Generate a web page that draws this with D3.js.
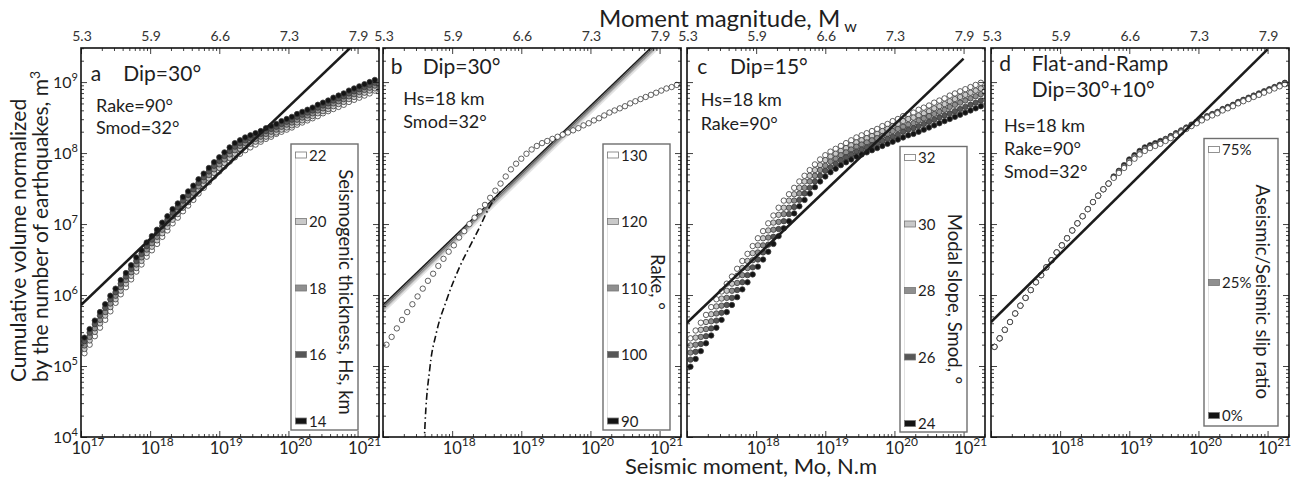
<!DOCTYPE html>
<html lang="en">
<head>
    <meta charset="UTF-8">
    <script src="https://d3js.org/d3.v7.min.js"></script>
    <style>
        body { margin: 0; background: #fff; }
        svg text { font-family: Lato, "Open Sans", sans-serif; fill: #1e1e1e; }
    </style>
</head>
<body>

<svg width="1296" height="478"></svg>

<script>

    // magnitude of every plotted point
    var mwPoints = [5.30, 5.35, 5.40, 5.45, 5.50, 5.55, 5.60, 5.65, 5.70, 5.75,
        5.80, 5.85, 5.90, 5.95, 6.00, 6.05, 6.10, 6.15, 6.20, 6.25,
        6.30, 6.35, 6.40, 6.45, 6.50, 6.55, 6.60, 6.65, 6.70, 6.75,
        6.80, 6.85, 6.90, 6.95, 7.00, 7.05, 7.10, 7.15, 7.20, 7.25,
        7.30, 7.35, 7.40, 7.45, 7.50, 7.55, 7.60, 7.65, 7.70, 7.75,
        7.80, 7.85, 7.90, 7.95, 8.00, 8.05, 8.10];

    // panel a : log10 of the normalized volume, one list per seismogenic thickness
    var hsLabels = ["22", "20", "18", "16", "14"];
    var hs14 = [5.40, 5.52, 5.64, 5.76, 5.87, 5.99, 6.09, 6.21, 6.31, 6.42,
        6.53, 6.63, 6.74, 6.83, 6.92, 7.02, 7.11, 7.21, 7.29, 7.38,
        7.46, 7.54, 7.63, 7.71, 7.79, 7.87, 7.94, 8.01, 8.08, 8.14,
        8.18, 8.22, 8.25, 8.28, 8.31, 8.35, 8.38, 8.41, 8.45, 8.48,
        8.51, 8.55, 8.58, 8.61, 8.64, 8.68, 8.71, 8.74, 8.78, 8.81,
        8.84, 8.88, 8.91, 8.94, 8.97, 9.00, 9.03];
    var hs16 = [5.35, 5.47, 5.59, 5.71, 5.82, 5.94, 6.04, 6.16, 6.26, 6.37,
        6.48, 6.58, 6.69, 6.78, 6.87, 6.97, 7.06, 7.16, 7.24, 7.33,
        7.41, 7.49, 7.58, 7.66, 7.74, 7.82, 7.89, 7.96, 8.03, 8.09,
        8.14, 8.18, 8.21, 8.24, 8.27, 8.31, 8.34, 8.37, 8.41, 8.44,
        8.47, 8.51, 8.54, 8.57, 8.60, 8.64, 8.67, 8.70, 8.74, 8.77,
        8.80, 8.84, 8.87, 8.90, 8.93, 8.96, 8.99];
    var hs18 = [5.29, 5.41, 5.53, 5.65, 5.76, 5.88, 5.99, 6.11, 6.21, 6.32,
        6.43, 6.53, 6.64, 6.73, 6.82, 6.92, 7.01, 7.11, 7.19, 7.28,
        7.36, 7.44, 7.53, 7.61, 7.69, 7.77, 7.84, 7.91, 7.98, 8.04,
        8.10, 8.14, 8.17, 8.20, 8.23, 8.27, 8.30, 8.33, 8.37, 8.40,
        8.43, 8.47, 8.50, 8.53, 8.56, 8.60, 8.63, 8.66, 8.70, 8.73,
        8.76, 8.80, 8.83, 8.86, 8.89, 8.92, 8.95];
    var hs20 = [5.24, 5.36, 5.48, 5.60, 5.71, 5.83, 5.94, 6.06, 6.16, 6.27,
        6.38, 6.48, 6.59, 6.68, 6.77, 6.87, 6.96, 7.06, 7.14, 7.23,
        7.31, 7.39, 7.48, 7.56, 7.64, 7.72, 7.79, 7.86, 7.93, 7.99,
        8.06, 8.10, 8.13, 8.16, 8.19, 8.23, 8.26, 8.29, 8.33, 8.36,
        8.39, 8.43, 8.46, 8.49, 8.52, 8.56, 8.59, 8.62, 8.66, 8.69,
        8.72, 8.76, 8.79, 8.82, 8.85, 8.88, 8.91];
    var hs22 = [5.18, 5.30, 5.42, 5.54, 5.65, 5.77, 5.89, 6.01, 6.11, 6.22,
        6.33, 6.43, 6.54, 6.63, 6.72, 6.82, 6.91, 7.01, 7.09, 7.18,
        7.26, 7.34, 7.43, 7.51, 7.59, 7.67, 7.74, 7.81, 7.88, 7.94,
        7.99, 8.04, 8.08, 8.12, 8.16, 8.20, 8.23, 8.27, 8.30, 8.33,
        8.36, 8.40, 8.43, 8.46, 8.49, 8.52, 8.56, 8.59, 8.62, 8.65,
        8.68, 8.72, 8.75, 8.78, 8.81, 8.84, 8.88];

    // panel b : all rakes give the same points
    var rakeLabels = ["130", "120", "110", "100", "90"];
    var rakeCircles = [5.30, 5.41, 5.53, 5.65, 5.76, 5.87, 5.98, 6.09, 6.20, 6.30,
        6.41, 6.51, 6.61, 6.70, 6.81, 6.90, 7.00, 7.09, 7.18, 7.27,
        7.37, 7.47, 7.57, 7.67, 7.77, 7.85, 7.92, 7.99, 8.05, 8.10,
        8.14, 8.17, 8.20, 8.23, 8.26, 8.29, 8.32, 8.35, 8.39, 8.42,
        8.46, 8.49, 8.53, 8.57, 8.60, 8.63, 8.66, 8.70, 8.73, 8.76,
        8.79, 8.82, 8.85, 8.88, 8.91, 8.93, 8.96];
    // reference lines (log10 volume at log10 Mo = 17 and 21), rake 130 ... 90
    var rakeLineM0 = [17, 21];
    var rakeLineVol = [[5.75, 9.49], [5.78, 9.52], [5.80, 9.54], [5.83, 9.57], [5.86, 9.60]];
    // dash-dot curve, [log10 Mo, log10 volume]
    var rakeLimit = [[17.585, 3.5], [17.60, 4.0], [17.68, 4.99], [17.77, 5.46], [17.92, 5.93],
        [18.11, 6.40], [18.28, 6.73], [18.40, 6.96], [18.54, 7.24], [18.70, 7.46]];

    // panel c : one list per modal slope
    var smodLabels = ["32", "30", "28", "26", "24"];
    var smod24 = [4.99, 5.10, 5.21, 5.32, 5.43, 5.54, 5.65, 5.76, 5.86, 5.97,
        6.08, 6.18, 6.29, 6.40, 6.50, 6.61, 6.72, 6.83, 6.94, 7.04,
        7.15, 7.25, 7.34, 7.43, 7.52, 7.60, 7.67, 7.73, 7.78, 7.83,
        7.87, 7.91, 7.95, 7.98, 8.01, 8.04, 8.07, 8.10, 8.13, 8.16,
        8.19, 8.22, 8.25, 8.27, 8.30, 8.33, 8.36, 8.39, 8.42, 8.45,
        8.48, 8.51, 8.54, 8.57, 8.60, 8.63, 8.66];
    var smod26 = [5.09, 5.20, 5.31, 5.42, 5.53, 5.64, 5.75, 5.86, 5.96, 6.07,
        6.18, 6.28, 6.39, 6.50, 6.60, 6.71, 6.82, 6.93, 7.04, 7.14,
        7.24, 7.34, 7.43, 7.51, 7.60, 7.68, 7.75, 7.80, 7.85, 7.90,
        7.94, 7.98, 8.02, 8.05, 8.08, 8.11, 8.14, 8.17, 8.20, 8.23,
        8.26, 8.30, 8.33, 8.35, 8.38, 8.41, 8.44, 8.47, 8.50, 8.53,
        8.56, 8.59, 8.62, 8.65, 8.68, 8.71, 8.74];
    var smod28 = [5.19, 5.30, 5.41, 5.52, 5.63, 5.74, 5.85, 5.96, 6.06, 6.17,
        6.28, 6.38, 6.49, 6.60, 6.70, 6.81, 6.92, 7.03, 7.14, 7.23,
        7.33, 7.43, 7.51, 7.60, 7.68, 7.76, 7.82, 7.88, 7.92, 7.97,
        8.01, 8.05, 8.09, 8.12, 8.15, 8.18, 8.21, 8.24, 8.27, 8.31,
        8.34, 8.37, 8.40, 8.42, 8.46, 8.49, 8.52, 8.55, 8.58, 8.61,
        8.65, 8.68, 8.71, 8.74, 8.77, 8.80, 8.83];
    var smod30 = [5.29, 5.40, 5.51, 5.62, 5.73, 5.84, 5.95, 6.06, 6.16, 6.27,
        6.38, 6.48, 6.59, 6.70, 6.80, 6.91, 7.02, 7.13, 7.23, 7.33,
        7.42, 7.51, 7.60, 7.68, 7.76, 7.83, 7.90, 7.95, 7.99, 8.03,
        8.07, 8.11, 8.15, 8.18, 8.21, 8.24, 8.27, 8.31, 8.34, 8.38,
        8.41, 8.45, 8.48, 8.50, 8.53, 8.56, 8.59, 8.63, 8.66, 8.69,
        8.73, 8.76, 8.79, 8.82, 8.85, 8.88, 8.91];
    var smod32 = [5.39, 5.50, 5.61, 5.72, 5.83, 5.94, 6.05, 6.16, 6.26, 6.37,
        6.48, 6.58, 6.69, 6.80, 6.90, 7.01, 7.12, 7.23, 7.33, 7.42,
        7.51, 7.60, 7.68, 7.76, 7.84, 7.91, 7.97, 8.02, 8.06, 8.10,
        8.14, 8.18, 8.22, 8.25, 8.28, 8.31, 8.34, 8.38, 8.41, 8.45,
        8.48, 8.52, 8.55, 8.57, 8.61, 8.64, 8.67, 8.71, 8.74, 8.77,
        8.81, 8.84, 8.87, 8.90, 8.93, 8.96, 8.99];

    // panel d : one list per aseismic/seismic slip ratio
    var ratioLabels = ["75%", "25%", "0%"];
    var ratio0 = [5.27, 5.39, 5.51, 5.62, 5.74, 5.85, 5.96, 6.07, 6.18, 6.28,
        6.39, 6.49, 6.60, 6.70, 6.80, 6.91, 7.01, 7.11, 7.21, 7.31,
        7.40, 7.49, 7.57, 7.67, 7.75, 7.83, 7.91, 7.97, 8.03, 8.08,
        8.11, 8.14, 8.17, 8.20, 8.24, 8.28, 8.32, 8.36, 8.40, 8.44,
        8.48, 8.52, 8.55, 8.58, 8.62, 8.65, 8.68, 8.72, 8.75, 8.78,
        8.81, 8.84, 8.87, 8.90, 8.93, 8.96, 8.99];
    var ratio25 = [5.27, 5.39, 5.51, 5.62, 5.74, 5.85, 5.96, 6.07, 6.18, 6.28,
        6.39, 6.49, 6.60, 6.70, 6.80, 6.91, 7.01, 7.11, 7.21, 7.31,
        7.40, 7.49, 7.57, 7.66, 7.74, 7.81, 7.89, 7.95, 8.01, 8.06,
        8.09, 8.12, 8.15, 8.19, 8.23, 8.27, 8.31, 8.35, 8.39, 8.43,
        8.47, 8.51, 8.54, 8.57, 8.61, 8.64, 8.67, 8.71, 8.74, 8.77,
        8.80, 8.83, 8.86, 8.89, 8.92, 8.95, 8.98];
    var ratio75 = [5.27, 5.39, 5.51, 5.62, 5.74, 5.85, 5.96, 6.07, 6.18, 6.28,
        6.39, 6.49, 6.60, 6.70, 6.80, 6.91, 7.01, 7.11, 7.21, 7.31,
        7.40, 7.49, 7.57, 7.65, 7.72, 7.79, 7.86, 7.92, 7.98, 8.03,
        8.07, 8.10, 8.13, 8.17, 8.21, 8.25, 8.29, 8.34, 8.38, 8.42,
        8.46, 8.50, 8.53, 8.56, 8.60, 8.63, 8.66, 8.70, 8.73, 8.76,
        8.79, 8.82, 8.85, 8.88, 8.91, 8.94, 8.97];

    // thick reference lines, [log10 Mo, log10 volume]
    var refA = [[17, 5.86], [21, 9.58]];
    var refC = [[17, 5.61], [21, 9.33]];
    var refD = [[17, 5.62], [21, 9.46]];

    var m0Ticks = [1e17, 1e18, 1e19, 1e20, 1e21];
    var mwTickLabels = ["5.3", "5.9", "6.6", "7.3", "7.9"];
    var volTicks = [1e4, 1e5, 1e6, 1e7, 1e8, 1e9];


    var svg = d3.select("svg"),
        plotTop = 48,
        plotW = 298,
        plotH = 389,
        grays5 = ["#ffffff", "#c9c9c9", "#8f8f8f", "#575757", "#141414"];

    var x = d3.scaleLog().domain([1e17, Math.pow(10, 21.31)]).range([0, plotW]);
    var y = d3.scaleLog().domain([1e4, Math.pow(10, 9.48)]).range([plotH, 0]);

    function pow10(v) { return Math.pow(10, v); }
    function mwToM0(mw) { return Math.pow(10, 1.5 * mw + 9.1); }
    function isDecade(v) {
        var l = Math.log10(v);
        return Math.abs(l - Math.round(l)) < 1e-6;
    }

    var line = d3.line()
        .x(function (d) { return x(pow10(d[0])); })
        .y(function (d) { return y(pow10(d[1])); });

    svg.append("defs").append("clipPath").attr("id", "plot-clip")
        .append("rect").attr("width", plotW).attr("height", plotH);

    function panelGroup(left) {
        return svg.append("g").attr("transform", "translate(" + left + "," + plotTop + ")");
    }

    function drawMarkers(g, values, fill) {
        g.append("g").attr("clip-path", "url(#plot-clip)")
            .selectAll("circle")
            .data(values)
            .enter()
            .append("circle")
            .attr("cx", function (d, i) { return x(mwToM0(mwPoints[i])); })
            .attr("cy", function (d) { return y(pow10(d)); })
            .attr("r", 2.7)
            .attr("fill", fill)
            .attr("stroke", "#3a3a3a")
            .attr("stroke-width", 0.8);
    }

    function drawLine(g, pts, color, width, dash) {
        g.append("path")
            .datum(pts)
            .attr("d", line.curve(d3.curveMonotoneX))
            .attr("fill", "none")
            .attr("stroke", color)
            .attr("stroke-width", width)
            .attr("stroke-dasharray", dash || null)
            .attr("clip-path", "url(#plot-clip)");
    }

    function drawFrame(g, firstPanel) {
        var xt = x.ticks(), yt = y.ticks();
        var xMinor = xt.filter(function (d) { return !isDecade(d); }),
            xMajor = xt.filter(isDecade),
            yMinor = yt.filter(function (d) { return !isDecade(d); }),
            yMajor = yt.filter(isDecade);

        var axes = [
            [d3.axisBottom(x), "translate(0," + plotH + ")", xMinor, xMajor],
            [d3.axisTop(x), null, xMinor, xMajor],
            [d3.axisLeft(y), null, yMinor, yMajor],
            [d3.axisRight(y), "translate(" + plotW + ",0)", yMinor, yMajor]
        ];
        axes.forEach(function (a) {
            [[a[2], -3], [a[3], -6]].forEach(function (set) {
                var ag = g.append("g")
                    .attr("transform", a[1])
                    .call(a[0].tickValues(set[0]).tickSize(set[1]).tickFormat(""));
                ag.select(".domain").remove();
                ag.selectAll("line").attr("stroke", "#111").attr("stroke-width", 0.8);
            });
        });

        g.append("rect")
            .attr("width", plotW)
            .attr("height", plotH)
            .attr("fill", "none")
            .attr("stroke", "#111")
            .attr("stroke-width", 1.6);

        m0Ticks.forEach(function (v, i) {
            if (i === 0 && !firstPanel) return;
            var t = g.append("text")
                .attr("x", x(v) - 9.5)
                .attr("y", plotH + 17)
                .style("font-size", "16.5px");
            t.append("tspan").text("10");
            t.append("tspan").attr("dy", -8).style("font-size", "12px").text(Math.round(Math.log10(v)));
        });

        m0Ticks.forEach(function (v, i) {
            g.append("text")
                .attr("x", x(v) + 1)
                .attr("y", -7)
                .attr("text-anchor", "middle")
                .style("font-size", "14px")
                .style("fill", "#333")
                .text(mwTickLabels[i]);
        });

        if (firstPanel) {
            volTicks.forEach(function (v) {
                var t = g.append("text")
                    .attr("x", -3)
                    .attr("y", y(v) + 6)
                    .attr("text-anchor", "end")
                    .style("font-size", "16px");
                t.append("tspan").text("10");
                t.append("tspan").attr("dy", -7).style("font-size", "11px").text(Math.round(Math.log10(v)));
            });
        }
    }

    function drawLegend(box, labels, fills, slots, title, tx, ty) {
        svg.append("rect")
            .attr("x", box[0]).attr("y", box[1])
            .attr("width", box[2]).attr("height", box[3])
            .attr("fill", "#fff")
            .attr("stroke", "#6e6e6e")
            .attr("stroke-width", 1.4);
        svg.append("line")
            .attr("x1", box[0] + 4.5).attr("x2", box[0] + 4.5)
            .attr("y1", box[1] + 11).attr("y2", box[1] + 11 + 4 * 66.5)
            .attr("stroke", "#e2e2e2").attr("stroke-width", 1);
        labels.forEach(function (lab, i) {
            var cy = box[1] + 11 + slots[i] * 66.5;
            svg.append("rect")
                .attr("x", box[0] + 4.5).attr("y", cy - 3)
                .attr("width", 11).attr("height", 6)
                .attr("fill", fills[i])
                .attr("stroke", "#777").attr("stroke-width", 0.8);
            svg.append("text")
                .attr("x", box[0] + 18).attr("y", cy + 5.5)
                .style("font-size", "15px")
                .text(lab);
        });
        svg.append("text")
            .attr("transform", "translate(" + tx + "," + ty + ") rotate(90)")
            .attr("text-anchor", "middle")
            .style("font-size", "18.5px")
            .text(title);
    }

    function note(px, py, str, size) {
        svg.append("text").attr("x", px).attr("y", py).style("font-size", size + "px").text(str);
    }

    // panel a
    var gA = panelGroup(81);
    [hs22, hs20, hs18, hs16, hs14].forEach(function (s, i) { drawMarkers(gA, s, grays5[i]); });
    drawLine(gA, refA, "#1c1c1c", 2.6);
    drawFrame(gA, true);
    drawLegend([291, 144, 67, 286], hsLabels, grays5, [0, 1, 2, 3, 4], "Seismogenic thickness, Hs, km", 339, 292);
    note(90.7, 81, "a", 21); note(123.3, 81, "Dip=30°", 21);
    note(96, 112, "Rake=90°", 18); note(96, 134, "Smod=32°", 18);

    // panel b
    var gB = panelGroup(383);
    var rakeLineColors = ["#e3e3e3", "#c4c4c4", "#9a9a9a", "#666666", "#1a1a1a"];
    rakeLineVol.forEach(function (v, i) {
        drawLine(gB, [[rakeLineM0[0], v[0]], [rakeLineM0[1], v[1]]], rakeLineColors[i], 1.5);
    });
    drawLine(gB, rakeLimit, "#111", 1.6, "7,3,1.5,3");
    drawMarkers(gB, rakeCircles, "#fff");
    drawFrame(gB, false);
    drawLegend([603, 144, 67, 286], rakeLabels, grays5, [0, 1, 2, 3, 4], "Rake, °", 650.7, 282);
    note(390.7, 74, "b", 21); note(422.7, 74, "Dip=30°", 21);
    note(403.3, 105, "Hs=18 km", 18); note(403.3, 128, "Smod=32°", 18);

    // panel c
    var gC = panelGroup(687);
    [smod32, smod30, smod28, smod26, smod24].forEach(function (s, i) { drawMarkers(gC, s, grays5[i]); });
    drawLine(gC, refC, "#1c1c1c", 2.6);
    drawFrame(gC, false);
    drawLegend([900, 146.5, 67, 285.5], smodLabels, grays5, [0, 1, 2, 3, 4], "Modal slope, Smod, °", 948.3, 299);
    note(697.3, 74, "c", 21); note(730, 74, "Dip=15°", 21);
    note(700.7, 106, "Hs=18 km", 18); note(700.7, 130, "Rake=90°", 18);

    // panel d
    var gD = panelGroup(991);
    drawMarkers(gD, ratio0, grays5[4]);
    drawMarkers(gD, ratio25, grays5[2]);
    drawMarkers(gD, ratio75, grays5[0]);
    drawLine(gD, refD, "#1c1c1c", 2.6);
    drawFrame(gD, false);
    drawLegend([1204, 138.5, 74, 287.5], ratioLabels, [grays5[0], grays5[2], grays5[4]], [0, 2, 4],
        "Aseismic/Seismic slip ratio", 1256, 291.7);
    note(999.3, 71, "d", 21); note(1031.7, 71, "Flat-and-Ramp", 21);
    note(1031.7, 97.3, "Dip=30°+10°", 21);
    note(1004, 131.7, "Hs=18 km", 18); note(1004, 155, "Rake=90°", 18); note(1004, 178.3, "Smod=32°", 18);

    // axis titles
    var topTitle = svg.append("text").attr("x", 599).attr("y", 26.5).style("font-size", "24px");
    topTitle.append("tspan").text("Moment magnitude, M");
    topTitle.append("tspan").attr("dx", 4).attr("dy", 5).style("font-size", "16px").text("w");

    svg.append("text").attr("x", 625).attr("y", 474).style("font-size", "22px")
        .text("Seismic moment, Mo, N.m");

    svg.append("text").attr("transform", "translate(26,382) rotate(-90)").style("font-size", "21px")
        .text("Cumulative volume normalized");
    var yTitle2 = svg.append("text").attr("transform", "translate(48,382) rotate(-90)").style("font-size", "21px");
    yTitle2.append("tspan").text("by the number of earthquakes, m");
    yTitle2.append("tspan").attr("dy", -8).style("font-size", "14px").text("3");

</script>

</body>
</html>
